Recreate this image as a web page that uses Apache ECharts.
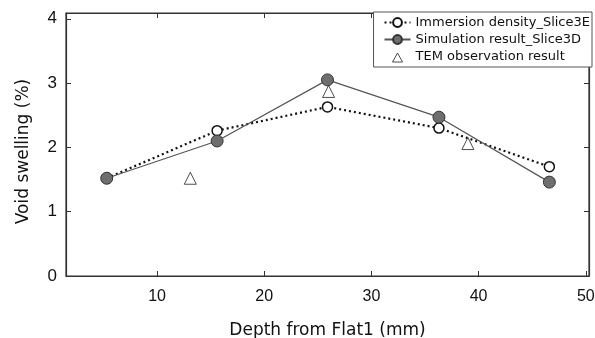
<!DOCTYPE html>
<html>
<head>
<meta charset="utf-8">
<script src="https://cdn.jsdelivr.net/npm/echarts@6/dist/echarts.min.js"></script>
<style>
  html, body { margin: 0; padding: 0; background: #fff; }
  #chart-container { width: 595px; height: 338px; }
</style>
</head>
<body>
<div id="chart-container"></div>
<script>
// depth from Flat1 (mm)
const depthSlices = [5.3, 15.6, 25.9, 36.3, 46.6];
const immersionDensity = [1.52, 2.26, 2.63, 2.30, 1.70];
const simulationResult = [1.52, 2.10, 3.05, 2.47, 1.46];
const temDepth = [13.1, 26.0, 39.0];
const temResult = [1.52, 2.87, 2.06];
const xTicks = [10, 20, 30, 40, 50];
const yTicks = [0, 1, 2, 3, 4];

function pairs(xs, ys) {
    return xs.map((x, i) => [x, ys[i]]);
}

const chart = echarts.init(document.getElementById('chart-container'));
const axisColor = '#333';
const font = 'Liberation Sans, Arial, sans-serif';
const wideFont = 'DejaVu Sans, sans-serif';

const xBase = {
    type: 'value',
    min: 1.5,
    max: 50.3,
    axisLine: { show: true, onZero: false, lineStyle: { color: axisColor, width: 1.2 } },
    axisTick: { show: true, inside: true, length: 5, customValues: xTicks, lineStyle: { color: axisColor } },
    splitLine: { show: false }
};
const yBase = {
    type: 'value',
    min: 0,
    max: 4.09,
    axisLine: { show: true, onZero: false, lineStyle: { color: axisColor, width: 1.2 } },
    axisTick: { show: true, inside: true, length: 5, customValues: yTicks, lineStyle: { color: axisColor } },
    splitLine: { show: false }
};

// small triangle for the legend, padded to the icon box so it is not stretched
const legendTriangle = 'path://M0,0L0,0M26,11L26,11M8,11L13,2L18,11Z';

const option = {
    animation: false,
    grid: {
        left: 66, right: 6, top: 13, bottom: 62, outerBoundsMode: 'none',
        show: true, borderColor: axisColor, borderWidth: 1.2, backgroundColor: 'transparent'
    },
    legend: {
        right: 3,
        top: 12,
        orient: 'vertical',
        itemGap: 4,
        itemWidth: 26,
        itemHeight: 11,
        padding: [4, 2, 4, 10],
        borderColor: '#555',
        borderWidth: 1,
        backgroundColor: '#fff',
        textStyle: { fontFamily: wideFont, fontSize: 13, color: '#111' },
        data: [
            { name: 'Immersion density_Slice3E' },
            { name: 'Simulation result_Slice3D' },
            { name: 'TEM observation result', icon: legendTriangle, itemStyle: { color: '#fff', borderColor: '#222', borderWidth: 1 } }
        ]
    },
    xAxis: [
        Object.assign({}, xBase, {
            position: 'bottom',
            name: 'Depth from Flat1 (mm)',
            nameLocation: 'middle',
            nameGap: 46,
            nameTextStyle: { fontFamily: wideFont, fontSize: 17, color: '#111' },
            axisLabel: { show: true, customValues: xTicks, margin: 13, fontFamily: font, fontSize: 16, color: '#111' }
        }),
        Object.assign({}, xBase, { position: 'top', axisLabel: { show: false } })
    ],
    yAxis: [
        Object.assign({}, yBase, {
            position: 'left',
            name: 'Void swelling (%)',
            nameLocation: 'middle',
            nameGap: 34,
            nameTextStyle: { fontFamily: wideFont, fontSize: 17, color: '#111', padding: [0, 0, 0, -14] },
            axisLabel: { show: true, customValues: yTicks, margin: 9, fontFamily: font, fontSize: 17, color: '#111' }
        }),
        Object.assign({}, yBase, { position: 'right', axisLabel: { show: false } })
    ],
    series: [
        {
            name: 'Immersion density_Slice3E',
            type: 'line',
            data: pairs(depthSlices, immersionDensity),
            symbol: 'circle',
            symbolSize: 10,
            lineStyle: { color: '#111', width: 2.2, type: [2, 3] },
            itemStyle: { color: '#fff', borderColor: '#111', borderWidth: 1.5 },
            z: 3
        },
        {
            name: 'Simulation result_Slice3D',
            type: 'line',
            data: pairs(depthSlices, simulationResult),
            symbol: 'circle',
            symbolSize: 12,
            lineStyle: { color: '#555', width: 1.2 },
            itemStyle: { color: '#6e6e6e', borderColor: '#333', borderWidth: 1 },
            z: 4
        },
        {
            name: 'TEM observation result',
            type: 'scatter',
            data: pairs(temDepth, temResult),
            symbol: 'triangle',
            symbolSize: 12,
            itemStyle: { color: '#fff', borderColor: '#222', borderWidth: 1 },
            z: 5
        }
    ]
};
chart.setOption(option);
</script>
</body>
</html>
